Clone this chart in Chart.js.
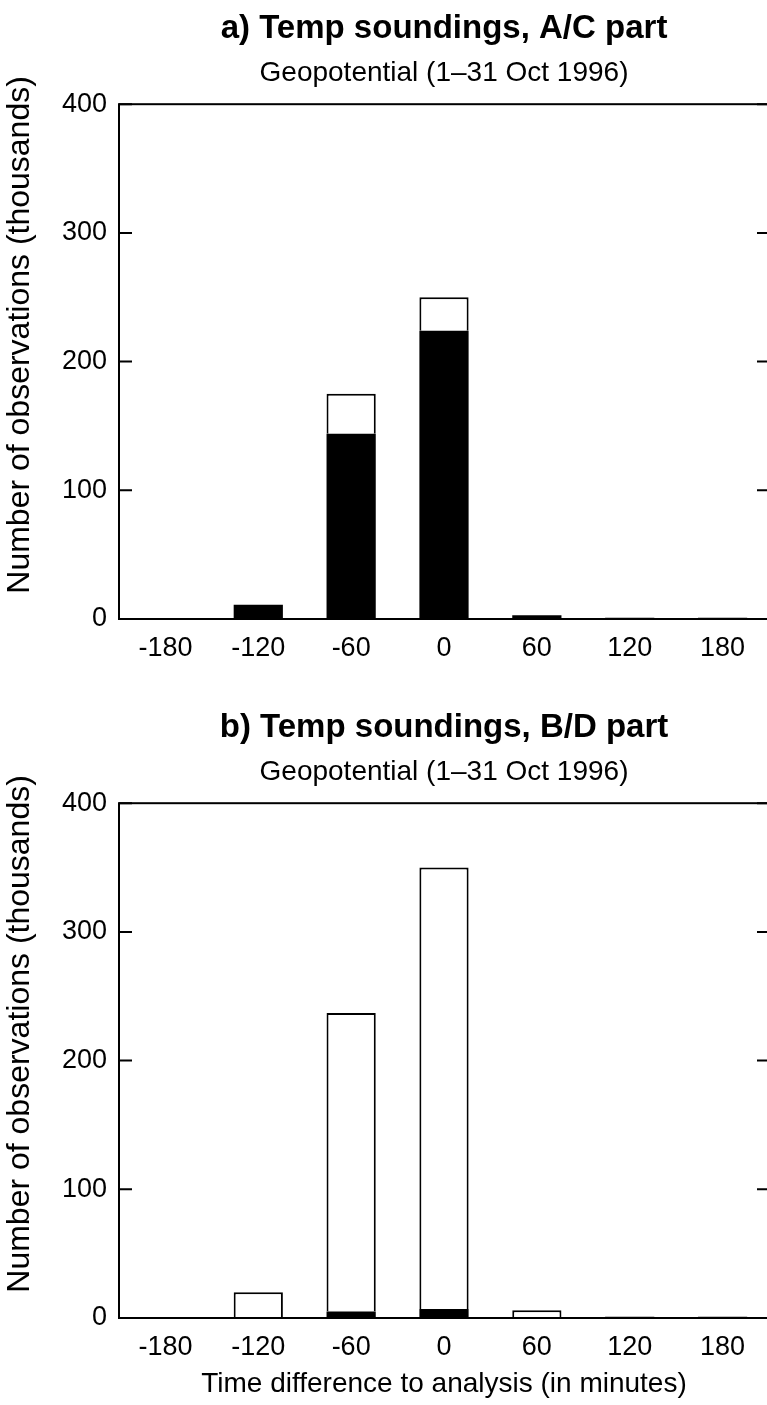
<!DOCTYPE html>
<html>
<head>
<meta charset="utf-8">
<script src="https://cdn.jsdelivr.net/npm/chart.js@4"></script>
<style>
  html, body { margin: 0; padding: 0; background: #fff; overflow: hidden; }
  body { width: 767px; height: 1405px; position: relative; }
  canvas { position: absolute; left: 0; }
  #chartA { top: 0; }
  #chartB { top: 699px; }
</style>
</head>
<body>
<canvas id="chartA" width="790" height="690"></canvas>
<canvas id="chartB" width="790" height="706"></canvas>
<script>
// 시간 차이 (분)
const timeLabels = ['-180', '-120', '-60', '0', '60', '120', '180'];
const yTicks = [0, 100, 200, 300, 400];

// a) A/C part (thousands)
const acBlack = [0, 11, 144, 224, 3, 1, 1];
const acWhite = [0, 0, 31, 26, 0, 0, 0];

// b) B/D part (thousands)
const bdBlack = [0, 0, 5, 7, 0, 1, 1];
const bdWhite = [0, 20, 232, 343, 6, 0, 0];

const FONT = "'Liberation Sans', Arial, Helvetica, sans-serif";
// 축 제목은 원본처럼 약간 위로 치우치게 (앞쪽 공백)
const Y_TITLE = '\u00A0'.repeat(6) + 'Number of observations (thousands)';

// 테두리 + 안쪽 눈금
const framePlugin = {
  id: 'frame',
  afterDatasetsDraw(chart) {
    const { ctx, chartArea: a, scales } = chart;
    ctx.save();
    ctx.strokeStyle = '#000';
    ctx.lineWidth = 2;
    ctx.strokeRect(a.left, a.top, a.right - a.left, a.bottom - a.top);
    yTicks.forEach(v => {
      const y = scales.y.getPixelForValue(v);
      ctx.beginPath();
      ctx.moveTo(a.left, y); ctx.lineTo(a.left + 13, y);
      ctx.moveTo(a.right - 12, y); ctx.lineTo(a.right, y);
      ctx.stroke();
    });
    ctx.restore();
  }
};

function makeChart(id, title, black, white, showXTitle) {
  const ctx = document.getElementById(id).getContext('2d');
  return new Chart(ctx, {
    type: 'bar',
    data: {
      labels: timeLabels,
      datasets: [{
        label: 'black',
        data: black,
        backgroundColor: '#000',
        borderWidth: 0
      }, {
        label: 'white',
        data: white,
        backgroundColor: '#fff',
        borderColor: '#000',
        borderWidth: 2
      }]
    },
    options: {
      responsive: false,
      maintainAspectRatio: false,
      animation: false,
      categoryPercentage: 0.53,
      barPercentage: 1,
      layout: { padding: { left: 0, right: 21, top: 0, bottom: 0 } },
      plugins: {
        legend: { display: false },
        tooltip: { enabled: false },
        title: {
          display: true,
          text: title,
          fullSize: false,
          color: '#000',
          font: { family: FONT, size: 33, weight: 'bold', lineHeight: 1.2 },
          padding: { top: 9, bottom: 3 }
        },
        subtitle: {
          display: true,
          text: 'Geopotential (1–31 Oct 1996)',
          fullSize: false,
          color: '#000',
          font: { family: FONT, size: 28, lineHeight: 1.2 },
          padding: { top: 5, bottom: 14 }
        }
      },
      scales: {
        x: {
          stacked: true,
          grid: { display: false, drawTicks: false },
          border: { display: false },
          ticks: { color: '#000', padding: 13, maxRotation: 0, font: { family: FONT, size: 27 } },
          title: {
            display: showXTitle,
            text: 'Time difference to analysis (in minutes)',
            color: '#000',
            font: { family: FONT, size: 28, lineHeight: 1.2 },
            padding: { top: 0, bottom: 4 }
          },
          afterFit(s) { s.height = showXTitle ? 87 : 71; }
        },
        y: {
          stacked: true,
          min: 0,
          max: 400,
          grid: { display: false, drawTicks: false },
          border: { display: false },
          ticks: { color: '#000', stepSize: 100, padding: 12, font: { family: FONT, size: 27 } },
          title: {
            display: true,
            text: Y_TITLE,
            color: '#000',
            font: { family: FONT, size: 32, lineHeight: 1.2 },
            padding: { top: 1, bottom: 0 }
          },
          afterFit(s) { s.width = 119; }
        }
      }
    },
    plugins: [framePlugin]
  });
}

makeChart('chartA', 'a) Temp soundings, A/C part', acBlack, acWhite, false);
makeChart('chartB', 'b) Temp soundings, B/D part', bdBlack, bdWhite, true);
</script>
</body>
</html>
